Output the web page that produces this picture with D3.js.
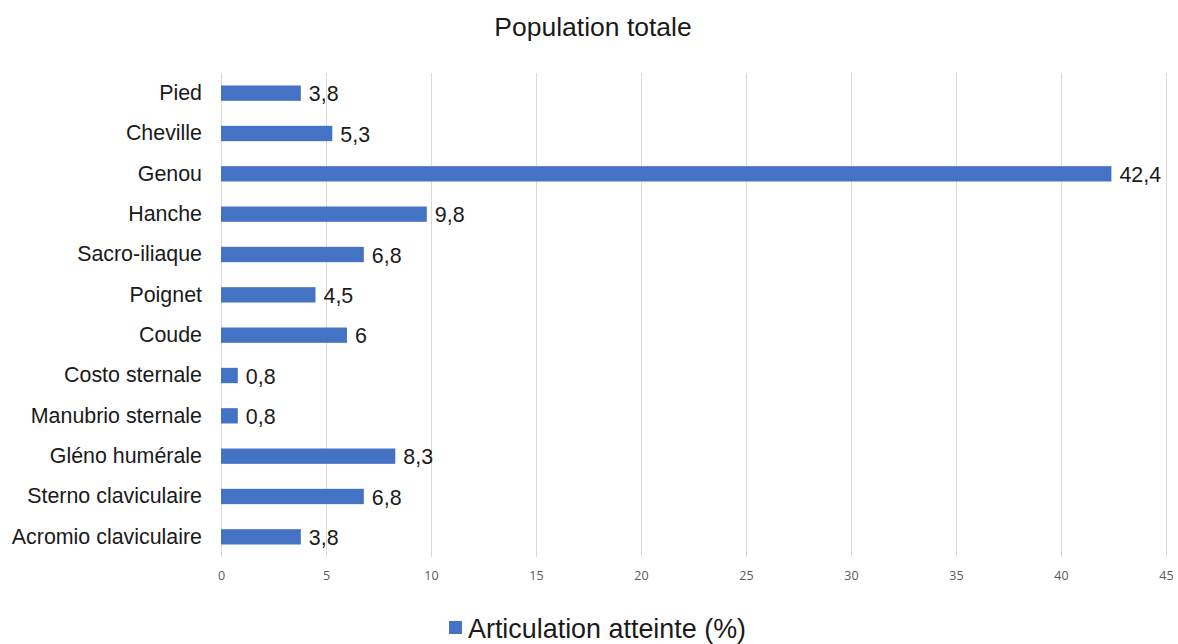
<!DOCTYPE html>
<html><head><meta charset="utf-8">
<script src="https://cdn.jsdelivr.net/npm/d3@7"></script>
<style>body{margin:0;background:#fff;} svg{display:block;}</style>
</head><body>
<svg id="chart" width="1178" height="644"></svg>
<script>
const categories = ["Pied","Cheville","Genou","Hanche","Sacro-iliaque","Poignet","Coude","Costo sternale","Manubrio sternale","Gléno humérale","Sterno claviculaire","Acromio claviculaire"];
const values = [3.8,5.3,42.4,9.8,6.8,4.5,6,0.8,0.8,8.3,6.8,3.8];
const valueLabels = ["3,8","5,3","42,4","9,8","6,8","4,5","6","0,8","0,8","8,3","6,8","3,8"];
const xTicks = [0,5,10,15,20,25,30,35,40,45];
const seriesName = "Articulation atteinte (%)";
const title = "Population totale";

const svg = d3.select("#chart");
const FONT = "'Liberation Sans', Arial, sans-serif";
const m = {left:221, right:1166, top:73, bottom:557};
const x = d3.scaleLinear().domain([0,45]).range([m.left, m.right]);
const y = d3.scaleBand().domain(categories).range([m.top, m.bottom]).paddingInner(0.62).paddingOuter(0.31);
const color = "#4472C4";

// gridlines
svg.append("g").selectAll("line").data(xTicks).join("line")
  .attr("x1", d=>x(d)).attr("x2", d=>x(d))
  .attr("y1", m.top).attr("y2", m.bottom)
  .attr("stroke", "#d9d9d9").attr("stroke-width", 1).attr("shape-rendering","crispEdges");

// x axis labels
const xAxis = d3.axisBottom(x).tickValues(xTicks).tickSize(0).tickPadding(0);
const gx = svg.append("g").attr("transform", `translate(0,${m.bottom+14})`).call(xAxis);
gx.select(".domain").remove();
gx.selectAll("text").attr("font-family","'Open Sans', sans-serif").attr("font-size",12.5).attr("fill","#595959");

// y axis labels
const yAxis = d3.axisLeft(y).tickSize(0).tickPadding(19);
const gy = svg.append("g").attr("transform", `translate(${m.left},0)`).call(yAxis);
gy.select(".domain").remove();
gy.selectAll("text").attr("font-family",FONT).attr("font-size",21.4).attr("fill","#1a1a1a");

// bars
svg.append("g").selectAll("rect").data(values).join("rect")
  .attr("x", x(0)).attr("y", (d,i)=>y(categories[i]))
  .attr("width", d=>x(d)-x(0)).attr("height", y.bandwidth())
  .attr("fill", color);

// value labels
svg.append("g").selectAll("text").data(values).join("text")
  .attr("x", d=>x(d)+8).attr("y", (d,i)=>y(categories[i])+y.bandwidth()/2)
  .attr("dy","0.38em")
  .attr("font-family",FONT).attr("font-size",21.4).attr("fill","#1a1a1a")
  .text((d,i)=>valueLabels[i]);

// title
svg.append("text").attr("x", 593).attr("y", 36).attr("text-anchor","middle")
  .attr("font-family",FONT).attr("font-size",26.5).attr("fill","#1a1a1a").text(title);

// legend
const lg = svg.append("g");
lg.append("rect").attr("x",449).attr("y",621).attr("width",13).attr("height",13).attr("fill",color);
lg.append("text").attr("x",468).attr("y",628).attr("dy","0.36em")
  .attr("font-family",FONT).attr("font-size",26.9).attr("fill","#1a1a1a").text(seriesName);
</script>
</body></html>
